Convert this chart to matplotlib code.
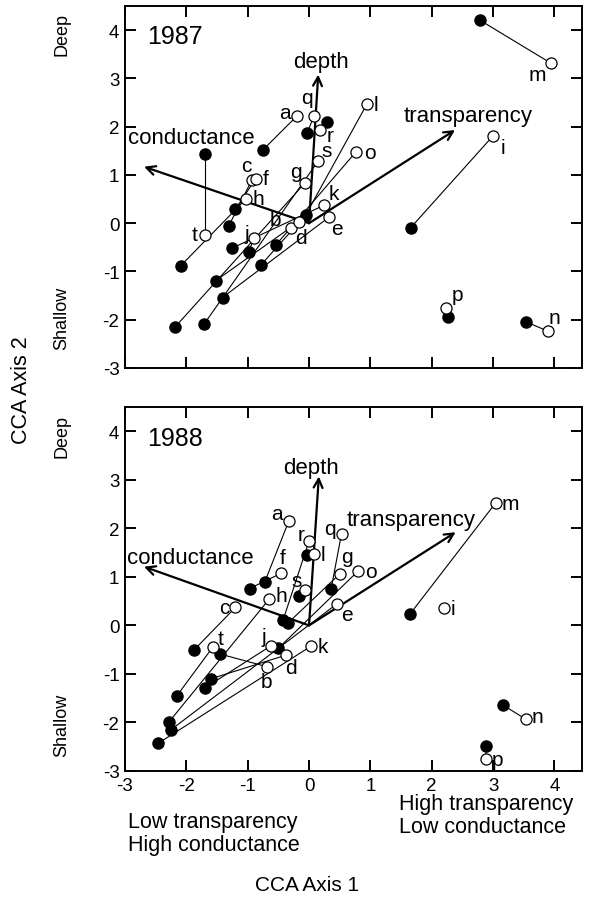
import numpy as np
import matplotlib
matplotlib.use("Agg")
import matplotlib.pyplot as plt

plt.rcParams["font.family"] = ["Liberation Sans", "DejaVu Sans"]
plt.rcParams["axes.unicode_minus"] = False

W, H = 591, 903

STATIONS = list("abcdefghijklmnopqrst")

# 1987 -- open circles (one end of each station's segment)
X_OPEN_87 = [-0.19, -0.30, -0.93, -0.16, 0.32, -0.87, -0.07, -1.03, 3.00, -0.90,
             0.24, 0.94, 3.95, 3.90, 0.76, 2.23, 0.08, 0.18, 0.15, -1.70]
Y_OPEN_87 = [2.23, -0.09, 0.90, 0.02, 0.12, 0.92, 0.83, 0.50, 1.81, -0.31,
             0.37, 2.46, 3.31, -2.24, 1.47, -1.76, 2.23, 1.93, 1.29, -0.24]
# 1987 -- filled circles
X_FILL_87 = [-0.75, -1.52, -1.31, -0.78, -1.41, -1.20, -2.19, -2.09, 1.66, -0.98,
             -1.26, -0.05, 2.78, 3.53, -0.54, 2.26, -0.03, 0.29, -1.71, -1.70]
Y_FILL_87 = [1.52, -1.19, -0.06, -0.86, -1.54, 0.29, -2.16, -0.88, -0.09, -0.59,
             -0.52, 0.18, 4.21, -2.04, -0.45, -1.95, 1.86, 2.09, -2.09, 1.43]

# 1988 -- open circles
X_OPEN_88 = [-0.33, -0.69, -1.20, -0.37, 0.45, -0.46, 0.50, -0.65, 2.20, -0.62,
             0.03, 0.08, 3.04, 3.53, 0.80, 2.88, 0.53, 0.00, -0.07, -1.57]
Y_OPEN_88 = [2.15, -0.85, 0.37, -0.61, 0.44, 1.07, 1.06, 0.54, 0.35, -0.42,
             -0.43, 1.47, 2.52, -1.93, 1.12, -2.76, 1.89, 1.74, 0.73, -0.45]
# 1988 -- filled circles (none visible for i)
X_FILL_88 = [-0.72, -1.45, -1.87, -1.60, -2.25, -0.97, -0.35, -2.29, np.nan, -1.70,
             -2.46, -0.03, 1.65, 3.16, -0.50, 2.89, 0.36, -0.42, -0.16, -2.16]
Y_FILL_88 = [0.90, -0.59, -0.50, -1.10, -2.15, 0.76, 0.04, -2.00, np.nan, -1.29,
             -2.43, 1.45, 0.24, -1.64, -0.47, -2.48, 0.75, 0.12, 0.60, -1.46]

# environmental biplot vectors
VEC_NAMES = ["depth", "conductance", "transparency"]
VEC_X_87 = [0.15, -2.69, 2.38]
VEC_Y_87 = [3.08, 1.17, 1.93]
VEC_X_88 = [0.16, -2.69, 2.39]
VEC_Y_88 = [3.07, 1.21, 1.92]

X_TICKS = [-3, -2, -1, 0, 1, 2, 3, 4]
Y_TICKS = [-3, -2, -1, 0, 1, 2, 3, 4]

# label offsets (pixels) from the open circle
OFFS_87 = dict(a=(-12, 3), b=(-15, 8), c=(-6, 14), d=(2, -15), e=(8, -11),
               f=(10, 0), g=(-9, 12), h=(13, 1), i=(10, -12), j=(-7, 5),
               k=(10, 12), l=(9, 0), m=(-14, -11), n=(6, 14), o=(14, 0),
               p=(12, 14), q=(-7, 18), r=(10, -5), s=(8, 10), t=(-10, 0))
OFFS_88 = dict(a=(-12, 8), b=(0, -15), c=(-11, 0), d=(5, -12), e=(10, -10),
               f=(2, 16), g=(7, 17), h=(12, 4), i=(9, 0), j=(-7, 9),
               k=(12, 0), l=(9, 0), m=(15, 0), n=(12, 3), o=(13, 0),
               p=(12, 0), q=(-12, 5), r=(-8, 6), s=(-8, 9), t=(8, 9))
VEC_LABEL_87 = [(0.20, 3.35), (-1.92, 1.78), (2.60, 2.23)]
VEC_LABEL_88 = [(0.04, 3.26), (-1.93, 1.40), (1.67, 2.19)]


def style_axes(ax, show_xlabels):
    ax.set_xlim(-3, 4.45)
    ax.set_ylim(-3, 4.5)
    ax.set_xticks(X_TICKS)
    ax.set_yticks(Y_TICKS)
    ax.tick_params(direction="in", length=8, width=1.4, top=True, right=True,
                   labelsize=13.5, pad=4)
    if not show_xlabels:
        ax.tick_params(labelbottom=False)
    for sp in ax.spines.values():
        sp.set_linewidth(1.4)


def draw_panel(ax, year, xo, yo, xf, yf, vx, vy, offs, vlab):
    for k in range(len(STATIONS)):
        if np.isnan(xf[k]):
            continue
        ax.plot([xf[k], xo[k]], [yf[k], yo[k]], color="black", lw=0.8, zorder=2)
    for name, x, y, (lx, ly) in zip(VEC_NAMES, vx, vy, vlab):
        ax.annotate("", xy=(x, y), xytext=(0, 0),
                    arrowprops=dict(arrowstyle="->", lw=1.6, color="black",
                                    mutation_scale=16, shrinkA=0, shrinkB=0),
                    zorder=3)
        ax.text(lx, ly, name, fontsize=16, ha="center", va="center", zorder=6)
    ax.plot(xf, yf, "o", color="black", ms=8, zorder=4, ls="none")
    ax.plot(xo, yo, "o", mfc="white", mec="black", mew=0.9, ms=8, zorder=5, ls="none")
    for k, s in enumerate(STATIONS):
        dx, dy = offs[s]
        ax.annotate(s, (xo[k], yo[k]), xytext=(dx, dy), textcoords="offset pixels",
                    fontsize=15, ha="center", va="center", zorder=6)
    ax.text(-2.64, 3.87, year, fontsize=18, ha="left", va="center")


fig = plt.figure(figsize=(W / 100, H / 100), dpi=100)
ax1 = fig.add_axes([125 / W, 1 - 369 / H, 457 / W, 362 / H])
ax2 = fig.add_axes([125 / W, 1 - 772 / H, 457 / W, 364 / H])

style_axes(ax1, False)
style_axes(ax2, True)
draw_panel(ax1, "1987", X_OPEN_87, Y_OPEN_87, X_FILL_87, Y_FILL_87,
           VEC_X_87, VEC_Y_87, OFFS_87, VEC_LABEL_87)
draw_panel(ax2, "1988", X_OPEN_88, Y_OPEN_88, X_FILL_88, Y_FILL_88,
           VEC_X_88, VEC_Y_88, OFFS_88, VEC_LABEL_88)


def ftext(x, y, s, **kw):
    fig.text(x / W, 1 - y / H, s, **kw)


ftext(22, 390, "CCA Axis 2", fontsize=15.5, rotation=90, ha="center", va="center")
ftext(62, 35, "Deep", fontsize=13, rotation=90, ha="center", va="center")
ftext(62, 318, "Shallow", fontsize=13, rotation=90, ha="center", va="center")
ftext(62, 437, "Deep", fontsize=13, rotation=90, ha="center", va="center")
ftext(62, 725, "Shallow", fontsize=13, rotation=90, ha="center", va="center")
ftext(128, 834, "Low transparency\nHigh conductance", fontsize=15.5,
      ha="left", va="center", linespacing=1.1)
ftext(399, 816, "High transparency\nLow conductance", fontsize=15.5,
      ha="left", va="center", linespacing=1.1)
ftext(307, 886, "CCA Axis 1", fontsize=15, ha="center", va="center")

fig.savefig("out.png", dpi=100)
